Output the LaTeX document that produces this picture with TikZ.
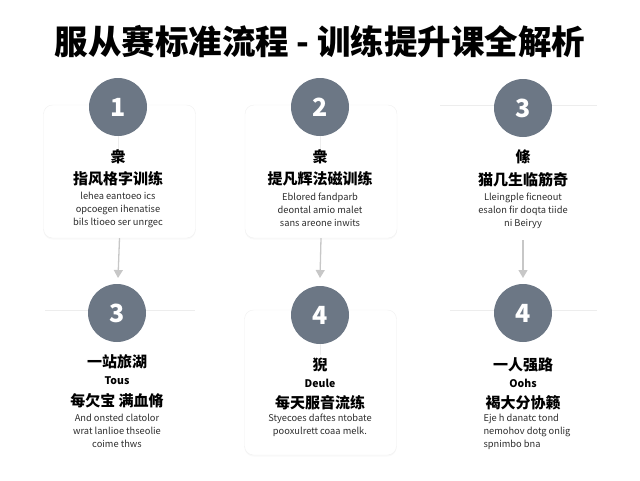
\documentclass[tikz,border=0pt]{standalone}
\usepackage{fontspec}
\setmainfont{Noto Sans CJK SC}
\newfontfamily\titlefont{Noto Sans CJK SC Black}
\usetikzlibrary{arrows.meta,shadows}
\definecolor{numgray}{RGB}{108,119,133}
\definecolor{bodygray}{RGB}{45,45,45}
\begin{document}
\begin{tikzpicture}[x=1pt,y=-1pt,
  card/.style={draw=black!6, fill=white, rounded corners=9pt, minimum width=152pt,
    drop shadow={opacity=0.05, shadow xshift=0pt, shadow yshift=-1.5pt}},
  stepnum/.style={circle, fill=numgray, minimum size=58pt, inner sep=0pt, text=white},
  guide/.style={draw=black!7, line width=0.8pt},
  flow/.style={-{Triangle[width=9pt,length=8pt]}, draw=black!22, line width=1.3pt},
  bodytext/.style={text=bodygray, align=center, font=\fontsize{9.3}{13}\selectfont},
  headtext/.style={text=black}]
\newcommand{\myfontnum}[1]{
\titlefont\fontsize{25}{25}\selectfont{#1}
}\newcommand{\myfonthead}[1]{
\titlefont\fontsize{15}{17}\selectfont{#1}
}\newcommand{\myfontsub}[1]{
\fontsize{10.5}{12}\selectfont\bfseries{#1}
}
\useasboundingbox (0,0) rectangle (640,480);
%Title
\node [] (title) at (320,42) {\titlefont\fontsize{33.5}{35}\selectfont 服从赛标准流程 - 训练提升课全解析};
%Cards
\node [card, minimum height=133pt] (card1) at (119.5,171.5) {};
\node [card, minimum height=133pt] (card2) at (321,171.5) {};
\node [card, minimum height=145pt] (card5) at (320.5,382.5) {};
%Faint lines where no card is drawn
\coordinate (g3a) at (440,105);
\coordinate (g3b) at (597,105);
\coordinate (g4a) at (45,310);
\coordinate (g4b) at (195,310);
\coordinate (g6a) at (450,310);
\coordinate (g6b) at (597,310);
\draw [guide] (g3a) -- (g3b);
\draw [guide] (g4a) -- (g4b);
\draw [guide] (g6a) -- (g6b);
%Step circles
\node [stepnum] (num1) at (118,107) {\myfontnum{1}};
\node [stepnum] (num2) at (320,107) {\myfontnum{2}};
\node [stepnum] (num3) at (523,108) {\myfontnum{3}};
\node [stepnum] (num4) at (117,313) {\myfontnum{3}};
\node [stepnum] (num5) at (320,315) {\myfontnum{4}};
\node [stepnum] (num6) at (523,313) {\myfontnum{4}};
%Short stems below the circles
\coordinate (stem1) at (118,149);
\coordinate (stem2) at (320,149);
\coordinate (stem5) at (320,355);
\draw [guide] (num1) -- (stem1);
\draw [guide] (num2) -- (stem2);
\draw [guide] (num5) -- (stem5);
%Arrows between the rows
\coordinate (out3) at (523,240);
\coordinate (in4) at (118,278);
\coordinate (in5) at (320,278);
\coordinate (in6) at (523,278);
\draw [flow] (card1.south) -- (in4);
\draw [flow] (card2.south) -- (in5);
\draw [flow] (out3) -- (in6);
%Step 1
\node [headtext] (icon1) at (118,157) {\myfonthead{衆}};
\node [headtext] (head1) at (118,179) {\myfonthead{指风格字训练}};
\node [bodytext] (body1) at (118,210) {lehea eantoeo ics\\opcoegen ihenatise\\bils ltioeo ser unrgec};
%Step 2
\node [headtext] (icon2) at (320,157) {\myfonthead{衆}};
\node [headtext] (head2) at (320,179) {\myfonthead{提凡辉法磁训练}};
\node [bodytext] (body2) at (320,210) {Eblored fandparb\\deontal amio malet\\sans areone inwits};
%Step 3
\node [headtext] (icon3) at (523,157) {\myfonthead{絛}};
\node [headtext] (head3) at (523,180) {\myfonthead{猫几生临筋奇}};
\node [bodytext] (body3) at (523,211) {Lleingple ficneout\\esalon fir doqta tiide\\ni Beiryy};
%Step 4
\node [headtext] (head4) at (117,362) {\myfonthead{一站旅湖}};
\node [headtext] (sub4) at (117,381) {\myfontsub{Tous}};
\node [headtext] (name4) at (117,401) {\myfonthead{每欠宝 满血脩}};
\node [bodytext] (body4) at (117,431) {And onsted clatolor\\wrat lanlioe thseolie\\coime thws};
%Step 5
\node [headtext] (icon5) at (320,365) {\myfonthead{猊}};
\node [headtext] (sub5) at (320,383) {\myfontsub{Deule}};
\node [headtext] (name5) at (320,403) {\myfonthead{每天服音流练}};
\node [bodytext] (body5) at (320,425) {Styecoes daftes ntobate\\pooxulrett coaa melk.};
%Step 6
\node [headtext] (head6) at (523,365) {\myfonthead{一人强路}};
\node [headtext] (sub6) at (523,383) {\myfontsub{Oohs}};
\node [headtext] (name6) at (523,403) {\myfonthead{褐大分协籁}};
\node [bodytext, align=left] (body6) at (527,432) {Eje h danatc tond\\nemohov dotg onlig\\spnimbo bna};
\end{tikzpicture}
\end{document}
